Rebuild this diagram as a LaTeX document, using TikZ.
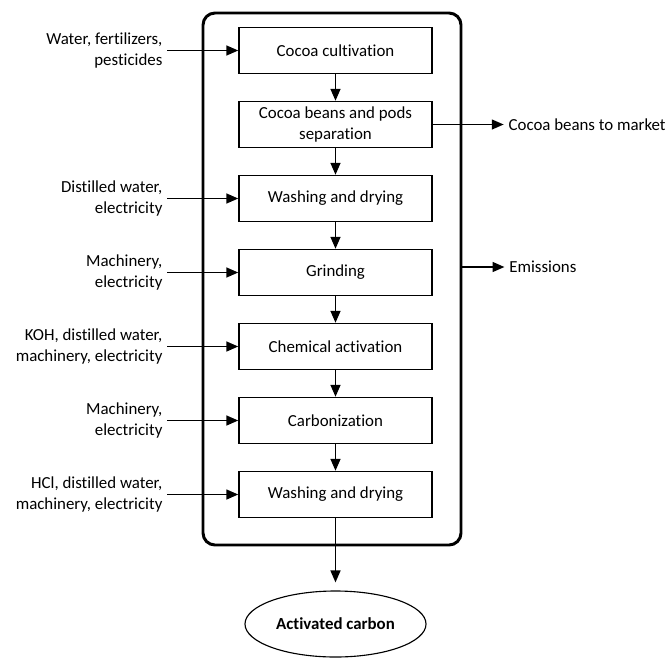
\documentclass[tikz,border=0pt]{standalone}
\usepackage{fontspec}
\setmainfont{Carlito}[Ligatures=NoCommon]
\usepackage{tikz}
\usetikzlibrary{arrows.meta,positioning,shapes.geometric}

\begin{document}
\begin{tikzpicture}[->,>={Triangle[length=8.5pt,width=7pt]},line width=1.3pt,node distance=1.85cm,
  font=\fontsize{12}{14.4}\selectfont,
  process/.style={draw,-,line width=1pt,minimum width=4.825cm,minimum height=1.15cm,align=center},
  inlbl/.style={align=right,inner sep=0.1cm},
  outlbl/.style={align=left,inner sep=0.1cm}]

\useasboundingbox (0,0) rectangle (16.775,-16.45);

\node[draw,-,line width=2.1pt,rounded corners=0.3cm,minimum width=6.45cm,minimum height=13.3cm] (frame) at (8.3,-6.975) {};

\node[process] (P1) at (8.3875,-1.2625) {Cocoa cultivation};
\node[process] (P2) [below of=P1] {Cocoa beans and pods\\separation};
\node[process] (P3) [below of=P2] {Washing and drying};
\node[process] (P4) [below of=P3] {Grinding};
\node[process] (P5) [below of=P4] {Chemical activation};
\node[process] (P6) [below of=P5] {Carbonization};
\node[process] (P7) [below of=P6] {Washing and drying};

\node[ellipse,draw,-,line width=0.8pt,minimum width=3.475cm,minimum height=1.65cm,font=\fontsize{12}{14.4}\selectfont\bfseries] (AC) at (8.3875,-15.6) {Activated carbon};

\node[inlbl] (I1) [left=1.775cm of P1] {Water, fertilizers,\\pesticides};
\node[inlbl] (I3) [left=1.775cm of P3] {Distilled water,\\electricity};
\node[inlbl] (I4) [left=1.775cm of P4] {Machinery,\\electricity};
\node[inlbl] (I5) [left=1.775cm of P5] {KOH, distilled water,\\machinery, electricity};
\node[inlbl] (I6) [left=1.775cm of P6] {Machinery,\\electricity};
\node[inlbl] (I7) [left=1.775cm of P7] {HCl, distilled water,\\machinery, electricity};

\coordinate (E) at ([yshift=0.3cm]frame.east);
\node[outlbl] (O1) [right=1.775cm of P2] {Cocoa beans to market};
\node[outlbl] (O2) [right=1.05cm of E] {Emissions};

\path
	(P1) edge (P2)
	(P2) edge (P3)
	(P3) edge (P4)
	(P4) edge (P5)
	(P5) edge (P6)
	(P6) edge (P7);
\path
	(I1) edge (P1)
	(I3) edge (P3)
	(I4) edge (P4)
	(I5) edge (P5)
	(I6) edge (P6)
	(I7) edge (P7);
\path
	(P2) edge (O1)
	(E) edge (O2)
	(P7) edge[shorten >=0.2cm] (AC);
\end{tikzpicture}
\end{document}
